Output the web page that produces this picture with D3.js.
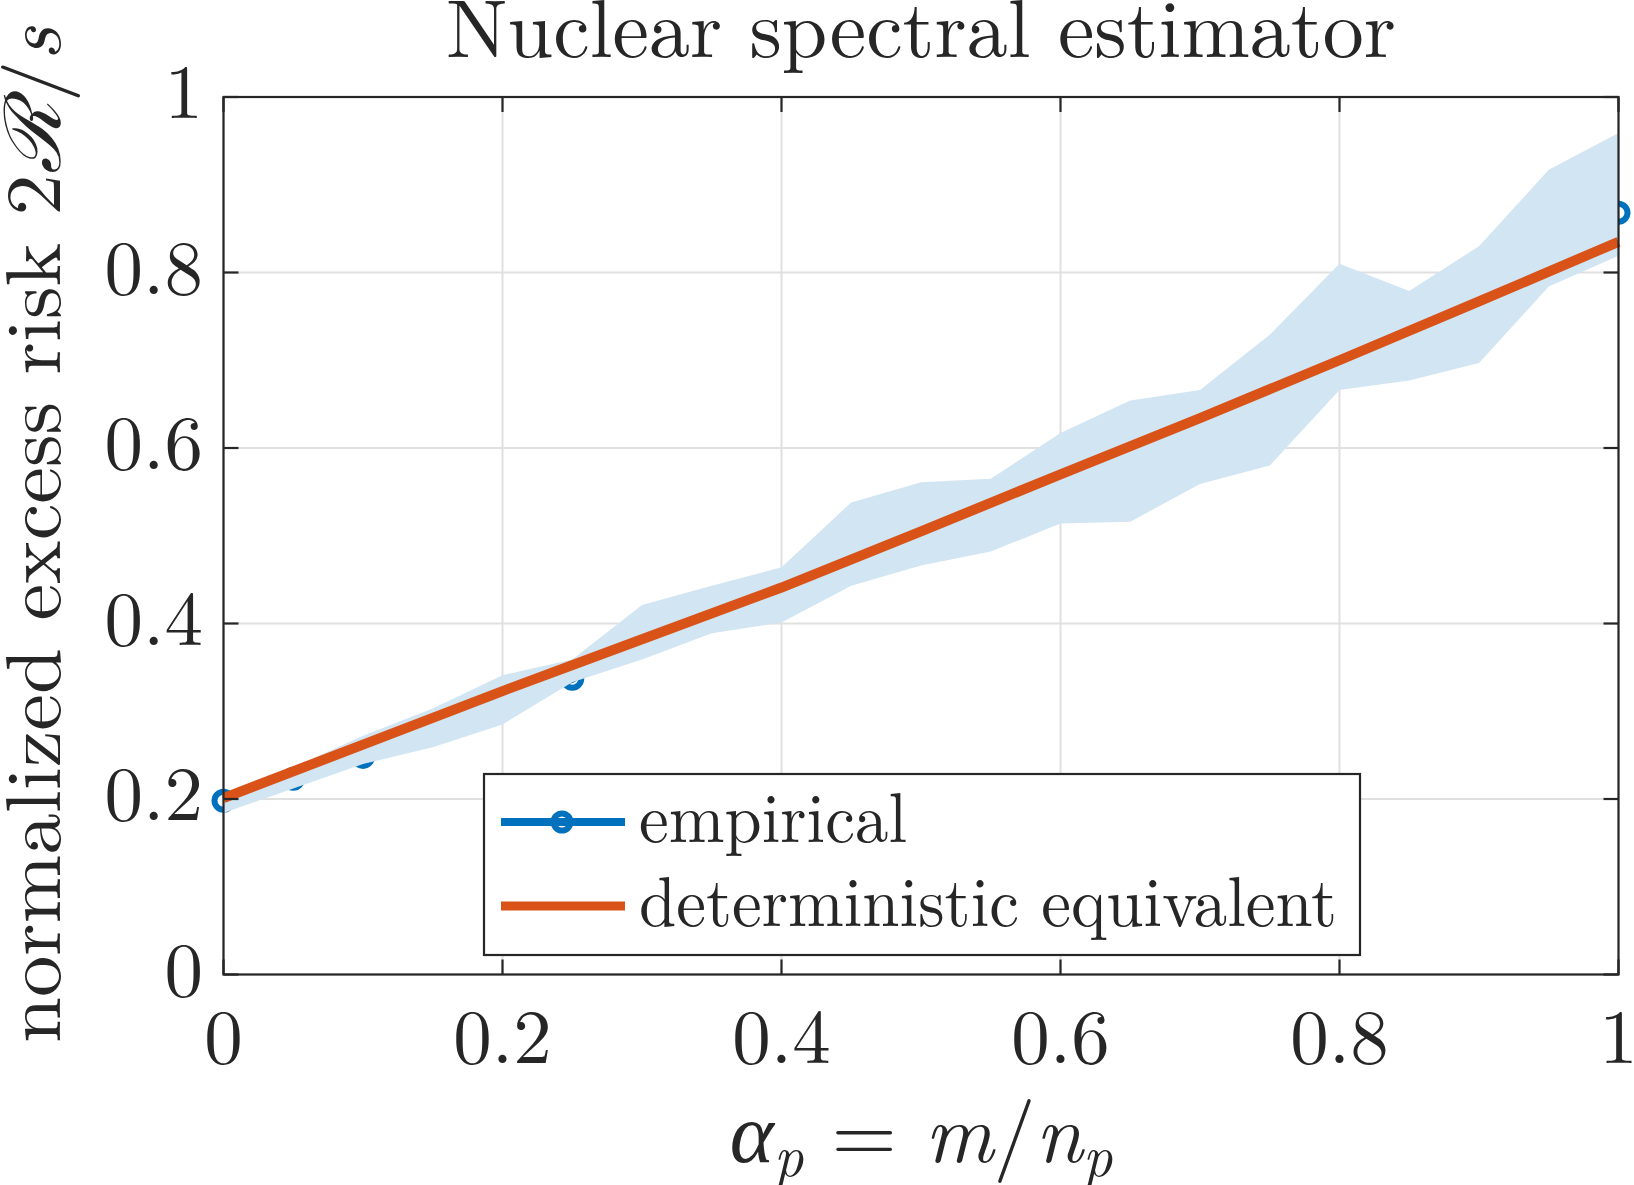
<!DOCTYPE html>
<html lang="en">
<head>
<meta charset="utf-8">
<script src="https://d3js.org/d3.v7.min.js"></script>
<style>
    body { margin: 0; background: #fff; }
    svg text { font-family: "Latin Modern Roman", "CMU Serif", "Liberation Serif", serif; fill: #262626; }
</style>
</head>
<body>
<div id="chart"></div>
<script>
    // values
    const alphaP = [0, 0.05, 0.1, 0.15, 0.2, 0.25, 0.3, 0.35, 0.4, 0.45, 0.5,
                    0.55, 0.6, 0.65, 0.7, 0.75, 0.8, 0.85, 0.9, 0.95, 1]
    const empirical = [0.198, 0.223, 0.248, 0.281, 0.313, 0.337, 0.39, 0.416, 0.433, 0.49, 0.513,
                       0.524, 0.567, 0.585, 0.612, 0.655, 0.738, 0.728, 0.764, 0.852, 0.868]
    const bandUpper = [0.205, 0.236, 0.272, 0.303, 0.341, 0.359, 0.421, 0.443, 0.464, 0.538, 0.561,
                       0.565, 0.617, 0.654, 0.666, 0.729, 0.810, 0.779, 0.830, 0.917, 0.959]
    const bandLower = [0.184, 0.212, 0.240, 0.259, 0.285, 0.333, 0.359, 0.389, 0.401, 0.443, 0.466,
                       0.482, 0.514, 0.516, 0.559, 0.580, 0.666, 0.677, 0.697, 0.784, 0.819]
    const theoryX = [0, 0.1, 0.2, 0.3, 0.4, 0.5, 0.6, 0.7, 0.8, 0.9, 1]
    const theoryY = [0.201, 0.262, 0.323, 0.382, 0.441, 0.505, 0.570, 0.634, 0.700, 0.767, 0.835]
    const xTicks = [0, 0.2, 0.4, 0.6, 0.8, 1]
    const yTicks = [0, 0.2, 0.4, 0.6, 0.8, 1]
    const legendLabels = ["empirical", "deterministic equivalent"]

    const width = 1634
    const height = 1185
    const padL = 223.5, padR = 1618.5, padT = 97, padB = 974.5
    const blue = "#0072BD", orange = "#D95319", band = "#d2e5f2", ink = "#262626"

    const svg = d3.select("#chart").append("svg")
        .attr("width", width)
        .attr("height", height)

    const x = d3.scaleLinear().domain([0, 1]).range([padL, padR])
    const y = d3.scaleLinear().domain([0, 1]).range([padB, padT])

    // grid
    svg.append("g").selectAll("line")
        .data(xTicks)
        .join("line")
        .attr("x1", d => x(d)).attr("x2", d => x(d))
        .attr("y1", padT).attr("y2", padB)
        .attr("stroke", "#e0e0e0").attr("stroke-width", 2)
    svg.append("g").selectAll("line")
        .data(yTicks)
        .join("line")
        .attr("x1", padL).attr("x2", padR)
        .attr("y1", d => y(d)).attr("y2", d => y(d))
        .attr("stroke", "#e0e0e0").attr("stroke-width", 2)

    const pts = alphaP.map((a, i) => ({a: a, m: empirical[i], lo: bandLower[i], hi: bandUpper[i]}))

    // empirical mean with markers (the opaque band is drawn over it)
    svg.append("path")
        .datum(pts)
        .attr("fill", "none")
        .attr("stroke", blue)
        .attr("stroke-width", 8)
        .attr("d", d3.line().x(d => x(d.a)).y(d => y(d.m)))
    svg.append("g").selectAll("circle")
        .data(pts)
        .join("circle")
        .attr("cx", d => x(d.a))
        .attr("cy", d => y(d.m))
        .attr("r", 9)
        .attr("fill", "none")
        .attr("stroke", blue)
        .attr("stroke-width", 6)

    // spread band
    svg.append("path")
        .datum(pts)
        .attr("fill", band)
        .attr("d", d3.area().x(d => x(d.a)).y0(d => y(d.lo)).y1(d => y(d.hi)))

    // deterministic equivalent
    svg.append("path")
        .datum(theoryX.map((a, i) => [a, theoryY[i]]))
        .attr("fill", "none")
        .attr("stroke", orange)
        .attr("stroke-width", 10)
        .attr("d", d3.line().x(d => x(d[0])).y(d => y(d[1])))

    // axes box with inward ticks on all four sides
    const tickLen = 15
    const axes = svg.append("g").attr("stroke", ink).attr("stroke-width", 2.2)
    axes.append("rect")
        .attr("x", padL).attr("y", padT)
        .attr("width", padR - padL).attr("height", padB - padT)
        .attr("fill", "none")
    xTicks.forEach(t => {
        axes.append("line").attr("x1", x(t)).attr("x2", x(t)).attr("y1", padB).attr("y2", padB - tickLen)
        axes.append("line").attr("x1", x(t)).attr("x2", x(t)).attr("y1", padT).attr("y2", padT + tickLen)
    })
    yTicks.forEach(t => {
        axes.append("line").attr("x1", padL).attr("x2", padL + tickLen).attr("y1", y(t)).attr("y2", y(t))
        axes.append("line").attr("x1", padR).attr("x2", padR - tickLen).attr("y1", y(t)).attr("y2", y(t))
    })

    // tick labels
    svg.append("g").selectAll("text")
        .data(xTicks)
        .join("text")
        .attr("x", d => x(d))
        .attr("y", 1063)
        .attr("text-anchor", "middle")
        .style("font-size", "77px")
        .text(d => d3.format("")(d))
    svg.append("g").selectAll("text")
        .data(yTicks)
        .join("text")
        .attr("x", 203)
        .attr("y", d => y(d) + 21)
        .attr("text-anchor", "end")
        .style("font-size", "77px")
        .text(d => d3.format("")(d))

    // title
    svg.append("text")
        .attr("x", (padL + padR) / 2)
        .attr("y", 57)
        .attr("text-anchor", "middle")
        .attr("textLength", 950)
        .attr("lengthAdjust", "spacingAndGlyphs")
        .style("font-size", "82px")
        .text("Nuclear spectral estimator")

    // x label: alpha_p = m / n_p
    const xl = svg.append("text")
        .attr("x", (padL + padR) / 2)
        .attr("y", 1162)
        .attr("text-anchor", "middle")
        .style("font-size", "84px")
    xl.append("tspan").style("font-style", "italic").text("α")
    xl.append("tspan").style("font-style", "italic").style("font-size", "58px").attr("dy", 14).text("p")
    xl.append("tspan").attr("dy", -14).text(" = ")
    xl.append("tspan").style("font-style", "italic").text("m")
    xl.append("tspan").text("/")
    xl.append("tspan").style("font-style", "italic").text("n")
    xl.append("tspan").style("font-style", "italic").style("font-size", "58px").attr("dy", 14).text("p")

    // y label
    const yl = svg.append("text")
        .attr("transform", "translate(60," + 535 + ") rotate(-90)")
        .attr("text-anchor", "middle")
        .attr("textLength", 1016)
        .attr("lengthAdjust", "spacingAndGlyphs")
        .style("font-size", "78px")
    yl.append("tspan").text("normalized excess risk 2")
    yl.append("tspan").style("font-style", "italic").text("ℛ")
    yl.append("tspan").text("/")
    yl.append("tspan").style("font-style", "italic").text("s")

    // legend
    const lg = svg.append("g")
    lg.append("rect")
        .attr("x", 484).attr("y", 774)
        .attr("width", 876).attr("height", 181)
        .attr("fill", "#fff")
        .attr("stroke", ink).attr("stroke-width", 2.2)
    const rowY = [822, 906]
    const rowColor = [blue, orange]
    const rowWidth = [268, 698]
    legendLabels.forEach((lab, i) => {
        lg.append("line")
            .attr("x1", 501).attr("x2", 625)
            .attr("y1", rowY[i]).attr("y2", rowY[i])
            .attr("stroke", rowColor[i]).attr("stroke-width", i === 0 ? 8 : 9)
        if (i === 0) {
            lg.append("circle")
                .attr("cx", 562).attr("cy", rowY[i]).attr("r", 8.5)
                .attr("fill", "none").attr("stroke", blue).attr("stroke-width", 6)
        }
        lg.append("text")
            .attr("x", 639)
            .attr("y", rowY[i] + 20)
            .attr("textLength", rowWidth[i])
            .attr("lengthAdjust", "spacingAndGlyphs")
            .style("font-size", "70px")
            .text(lab)
    })
</script>
</body>
</html>
